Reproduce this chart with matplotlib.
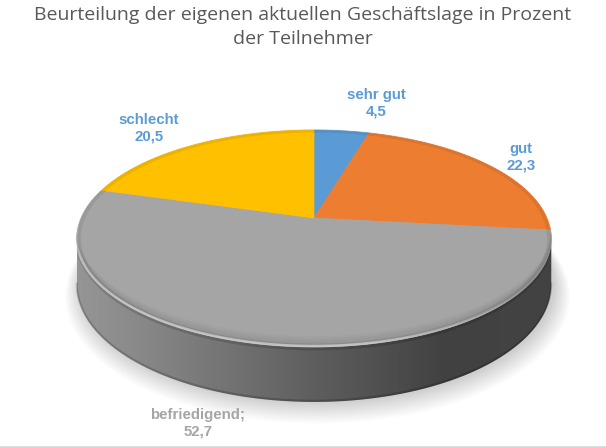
import numpy as np
import matplotlib
matplotlib.use("Agg")
import matplotlib.pyplot as plt
from matplotlib.patches import Polygon
from matplotlib.collections import LineCollection
from matplotlib.colors import LinearSegmentedColormap

# ---- data ----
title = "Beurteilung der eigenen aktuellen Geschäftslage in Prozent\nder Teilnehmer"
categories = ["sehr gut", "gut", "befriedigend", "schlecht"]
values = [4.5, 22.3, 52.7, 20.5]
value_labels = ["4,5", "22,3", "52,7", "20,5"]
label_sep = ["", "", ";", ""]
colors = ["#5B9BD5", "#ED7D31", "#A5A5A5", "#FFC000"]
label_colors = ["#5B9BD5", "#5B9BD5", "#A5A5A5", "#5B9BD5"]
label_pos = [(376, 103), (521, 157), (198, 423), (149, 128)]

# ---- geometry of the 3D pie (pixel space) ----
CX, CY, A, B, P, H = 314, 218, 233, 104.6, 0.189, 44.6


def rim(theta_deg, drop=0.0, scale=1.0):
    t = np.radians(theta_deg)
    u = np.sin(t) * scale
    v = np.cos(t) * scale
    d = 1 + P * v
    return CX + A * u / d, CY - B * v / d + drop / d


def line_segments(x, y):
    pts = np.column_stack([x, y]).reshape(-1, 1, 2)
    return np.concatenate([pts[:-1], pts[1:]], axis=1)


fig = plt.figure(figsize=(6.06, 4.47), dpi=100)
ax = fig.add_axes([0, 0, 1, 1])
ax.set_xlim(0, 606)
ax.set_ylim(447, 0)
ax.axis("off")

# soft shadow
th = np.linspace(0, 360, 400)
for k in range(12):
    x, y = rim(th, drop=H + 1 + k * 0.7, scale=1.0 + k * 0.0055)
    ax.fill(x + 3.5, y, color="black", alpha=0.017, lw=0, zorder=1)

# side (front) with horizontal gradient
t0 = np.degrees(np.arccos(-P))
th = np.linspace(t0, 360 - t0, 300)
xt, yt = rim(th)
xb, yb = rim(th[::-1], drop=H)
side = Polygon(np.column_stack([np.r_[xt, xb], np.r_[yt, yb]]), closed=True,
               facecolor="none", edgecolor="none", zorder=2)
ax.add_patch(side)
cmap = LinearSegmentedColormap.from_list(
    "side", [(0.0, "#959595"), (0.12, "#8a8a8a"), (0.5, "#5e5e5e"),
             (0.78, "#414141"), (1.0, "#434343")])
grad = np.linspace(0, 1, 256)[None, :]
im = ax.imshow(grad, cmap=cmap, extent=[xt.min(), xt.max(), 420, 225],
               aspect="auto", zorder=2, interpolation="bilinear")
im.set_clip_path(side)
# dark bottom edge of the side
xb2, yb2 = rim(th, drop=H - 1)
ax.plot(xb2, yb2, color="black", alpha=0.18, lw=1.5, zorder=2)

# top face wedges
cum = np.concatenate([[0], np.cumsum(values)])
total = cum[-1]
for i, val in enumerate(values):
    a0 = cum[i] / total * 360
    a1 = cum[i + 1] / total * 360
    th = np.linspace(a0, a1, max(3, int((a1 - a0) * 2)))
    x, y = rim(th)
    poly = Polygon(np.column_stack([np.r_[CX, x], np.r_[CY, y]]), closed=True,
                   facecolor=colors[i], edgecolor=colors[i], lw=0.5,
                   joinstyle="round", zorder=3)
    ax.add_patch(poly)

# bevel around the whole rim (slight darkening)
th = np.linspace(0, 360, 721)
x, y = rim(th, scale=0.99)
ax.plot(x, y, color="black", alpha=0.07, lw=2.5, zorder=4)

# front bevel: darker band fading upward, then highlight at the edge
th = np.linspace(t0 - 6, 360 - t0 + 6, 401)
mid = (th[:-1] + th[1:]) / 2
fade = np.clip(np.sin(np.radians((mid - th[0]) / (th[-1] - th[0]) * 180)) * 1.6, 0, 1)
for k in range(9):
    x, y = rim(th, drop=-1.5 - k * 0.9)
    rgba = np.zeros((len(mid), 4))
    rgba[:, 3] = 0.035 * (9 - k) / 9 * fade * 2.2
    ax.add_collection(LineCollection(line_segments(x, y), colors=rgba, lw=1.1,
                                     capstyle="butt", zorder=4))

x, y = rim(th, drop=-0.8)
hl = np.clip((mid - 125) / 45, 0, 1) * np.clip((268 - mid) / 20, 0, 1)
rgba = np.ones((len(mid), 4))
rgba[:, 3] = 0.45 * hl
ax.add_collection(LineCollection(line_segments(x, y), colors=rgba, lw=1.8,
                                 capstyle="butt", zorder=5))
x, y = rim(th, drop=1.6)
rgba = np.zeros((len(mid), 4))
rgba[:, 3] = 0.15 * fade
ax.add_collection(LineCollection(line_segments(x, y), colors=rgba, lw=2.0,
                                 capstyle="butt", zorder=4))

# labels
for i, cat in enumerate(categories):
    ax.text(label_pos[i][0], label_pos[i][1],
            f"{cat}{label_sep[i]}\n{value_labels[i]}",
            ha="center", va="center", color=label_colors[i],
            fontsize=10.8, fontweight="bold", family="Liberation Sans",
            linespacing=1.2, zorder=6)

ax.text(303, 27, title, ha="center", va="center", fontsize=14,
        color="#595959", family="Open Sans", linespacing=1.38)

ax.axhline(446.5, color="#d9d9d9", lw=1.2)

fig.savefig("out.png", dpi=100)
